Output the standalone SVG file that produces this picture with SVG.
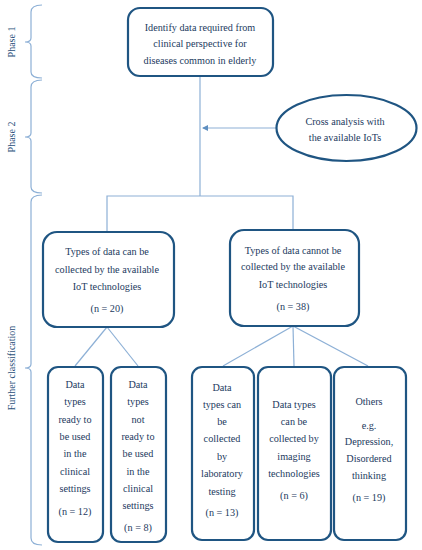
<svg xmlns="http://www.w3.org/2000/svg" width="422" height="550" viewBox="0 0 422 550">
<defs>
<style>
.box{fill:#fff;stroke:#1f5582;stroke-width:2.2}
.t{font-family:"Liberation Serif","Times New Roman",serif;font-size:10.2px;fill:#1c3a60;text-anchor:middle}
.lbl{font-family:"Liberation Serif","Times New Roman",serif;font-size:10px;fill:#2a4f7a;text-anchor:middle}
.ln{fill:none;stroke:#8db0d6;stroke-width:1.2}
.br{fill:none;stroke:#8db0d6;stroke-width:1.2}
</style>
<marker id="ah" viewBox="0 0 6 6" refX="5" refY="3" markerWidth="5" markerHeight="5" orient="auto">
<path d="M0,0 L6,3 L0,6 z" fill="#5f8fc0"/>
</marker>
</defs>
<rect width="422" height="550" fill="#fff"/>

<g id="brackets">
<path class="br" d="M42,5 Q31,5 31,12 L31,38 Q31,42 25,42 Q31,42 31,46 L31,72 Q31,78 42,78"/>
<path class="br" d="M42,80 Q31,80 31,87 L31,133 Q31,137 25,137 Q31,137 31,141 L31,187 Q31,193 42,193"/>
<path class="br" d="M42,195 Q31,195 31,202 L31,364 Q31,368 25,368 Q31,368 31,372 L31,538 Q31,545 42,545"/>
<text class="lbl" transform="translate(15,42) rotate(-90)">Phase 1</text>
<text class="lbl" transform="translate(15,137) rotate(-90)">Phase 2</text>
<text class="lbl" transform="translate(15,368) rotate(-90)">Further classification</text>
</g>

<g id="connectors">
<line class="ln" x1="200" y1="76" x2="200" y2="196"/>
<line class="ln" x1="277" y1="128" x2="203" y2="128" marker-end="url(#ah)"/>
<polyline class="ln" points="107,232 107,196 293,196 293,230"/>
<line class="ln" x1="107" y1="327" x2="75" y2="366"/>
<line class="ln" x1="107" y1="327" x2="138" y2="366"/>
<line class="ln" x1="293" y1="326" x2="223" y2="366"/>
<line class="ln" x1="293" y1="326" x2="294" y2="366"/>
<line class="ln" x1="293" y1="326" x2="368" y2="366"/>
</g>

<g id="n-top">
<rect class="box" x="128" y="8" width="145" height="68" rx="12"/>
<text class="t" x="200" y="31">Identify data required from</text>
<text class="t" x="200" y="47">clinical perspective for</text>
<text class="t" x="200" y="64">diseases common in elderly</text>
</g>

<g id="n-cross">
<ellipse class="box" cx="346.5" cy="128" rx="70" ry="33"/>
<text class="t" x="345" y="125">Cross analysis with</text>
<text class="t" x="345" y="141">the available IoTs</text>
</g>

<g id="n-can">
<rect class="box" x="43" y="232" width="131" height="95" rx="14"/>
<text class="t" x="107" y="255">Types of data can be</text>
<text class="t" x="107" y="273">collected by the available</text>
<text class="t" x="107" y="290">IoT technologies</text>
<text class="t" x="107" y="312">(n = 20)</text>
</g>

<g id="n-cannot">
<rect class="box" x="230" y="230" width="129" height="96" rx="14"/>
<text class="t" x="293" y="254">Types of data cannot be</text>
<text class="t" x="293" y="270">collected by the available</text>
<text class="t" x="293" y="288">IoT technologies</text>
<text class="t" x="293" y="310">(n = 38)</text>
</g>

<g id="n-ready">
<rect class="box" x="48" y="367" width="55" height="175" rx="10"/>
<text class="t" x="75" y="388">Data</text>
<text class="t" x="75" y="405">types</text>
<text class="t" x="75" y="423">ready to</text>
<text class="t" x="75" y="440">be used</text>
<text class="t" x="75" y="457">in the</text>
<text class="t" x="75" y="475">clinical</text>
<text class="t" x="75" y="492">settings</text>
<text class="t" x="75" y="515">(n = 12)</text>
</g>

<g id="n-notready">
<rect class="box" x="111" y="367" width="55" height="175" rx="10"/>
<text class="t" x="138" y="388">Data</text>
<text class="t" x="138" y="405">types</text>
<text class="t" x="138" y="423">not</text>
<text class="t" x="138" y="440">ready to</text>
<text class="t" x="138" y="457">be used</text>
<text class="t" x="138" y="475">in the</text>
<text class="t" x="138" y="492">clinical</text>
<text class="t" x="138" y="509">settings</text>
<text class="t" x="138" y="531">(n = 8)</text>
</g>

<g id="n-lab">
<rect class="box" x="192" y="367" width="62" height="173" rx="10"/>
<text class="t" x="222" y="391">Data</text>
<text class="t" x="222" y="408">types can</text>
<text class="t" x="222" y="425">be</text>
<text class="t" x="222" y="442">collected</text>
<text class="t" x="222" y="460">by</text>
<text class="t" x="222" y="477">laboratory</text>
<text class="t" x="222" y="495">testing</text>
<text class="t" x="222" y="516">(n = 13)</text>
</g>

<g id="n-imaging">
<rect class="box" x="258" y="367" width="73" height="173" rx="10"/>
<text class="t" x="294" y="408">Data types</text>
<text class="t" x="294" y="425">can be</text>
<text class="t" x="294" y="442">collected by</text>
<text class="t" x="294" y="460">imaging</text>
<text class="t" x="294" y="477">technologies</text>
<text class="t" x="294" y="499">(n = 6)</text>
</g>

<g id="n-others">
<rect class="box" x="334" y="367" width="72" height="173" rx="10"/>
<text class="t" x="369" y="405">Others</text>
<text class="t" x="369" y="429">e.g.</text>
<text class="t" x="369" y="445">Depression,</text>
<text class="t" x="369" y="462">Disordered</text>
<text class="t" x="369" y="479">thinking</text>
<text class="t" x="369" y="501">(n = 19)</text>
</g>
</svg>
